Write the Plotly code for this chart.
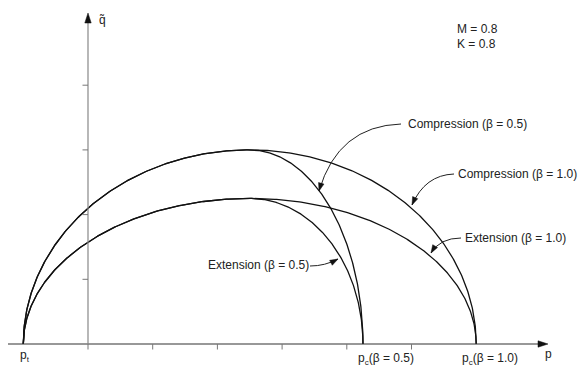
import numpy as np
import plotly.graph_objects as go

# ---- data ----
p_t = -1.0                     # tensile intercept
p_apex = 2.5                   # p at apex of surfaces
q_apex_compression = 3.0       # apex height, compression side
q_apex_extension = 2.25        # apex height, extension side
p_c_beta = {"0.5": 4.25, "1.0": 6.0}
x_ticks = [0, 1, 2, 3, 4, 5]
y_ticks = [1, 2, 3, 4]
M_value = 0.8
K_value = 0.8

S = 64.7  # px per unit
PAGE_OFF = 8  # default page margin
OX, OY = 88 - PAGE_OFF, 344 - PAGE_OFF
W, H = 587 - PAGE_OFF, 377 - PAGE_OFF


def px(X, Y):
    # screen pixel (as in reference) -> data coordinates
    X -= PAGE_OFF
    Y -= PAGE_OFF
    return (X - OX) / S, (OY - Y) / S


def surface(p_left, p_top, q_top, p_right, n=200):
    th = np.linspace(np.pi, np.pi / 2, n)
    pl = p_top + (p_top - p_left) * np.cos(th)
    ql = q_top * np.sin(th)
    th2 = np.linspace(np.pi / 2, 0, n)
    pr = p_top + (p_right - p_top) * np.cos(th2)
    qr = q_top * np.sin(th2)
    return np.concatenate([pl, pr]), np.concatenate([ql, qr])


fig = go.Figure()
for beta, pc in p_c_beta.items():
    for qa in (q_apex_compression, q_apex_extension):
        pp, qq = surface(p_t, p_apex, qa, pc)
        fig.add_trace(go.Scatter(x=pp, y=qq, mode="lines",
                                 line=dict(color="#111", width=1.3),
                                 hoverinfo="skip", showlegend=False))

shapes = []
annotations = []


def head(tx, ty, dx, dy, length_px, half_px, color="#111"):
    d = (dx ** 2 + dy ** 2) ** 0.5
    ux, uy = dx / d, dy / d
    L, Hh = length_px / S, half_px / S
    bx, by = tx - ux * L, ty - uy * L
    p1 = (bx - uy * Hh, by + ux * Hh)
    p2 = (bx + uy * Hh, by - ux * Hh)
    shapes.append(dict(type="path", xref="x", yref="y",
                       path=f"M {tx},{ty} L {p1[0]},{p1[1]} L {p2[0]},{p2[1]} Z",
                       fillcolor=color, line=dict(color=color, width=0.5)))


# axes lines
x0, _ = px(7, 0)
xt, _ = px(548, 0)
_, yt = px(0, 13)
shapes.append(dict(type="line", xref="x", yref="y", x0=x0, y0=0, x1=xt - 0.1, y1=0,
                   line=dict(color="#333", width=1.2)))
shapes.append(dict(type="line", xref="x", yref="y", x0=0, y0=0, x1=0, y1=yt - 0.1,
                   line=dict(color="#888", width=1.2)))
head(xt, 0, 1, 0, 10, 3.2)
head(0, yt, 0, 1, 10, 3.2)

# ticks
tl = 5.5 / S
for t in x_ticks:
    shapes.append(dict(type="line", xref="x", yref="y", x0=t, y0=0, x1=t, y1=-tl,
                       line=dict(color="#777", width=1)))
for t in y_ticks:
    shapes.append(dict(type="line", xref="x", yref="y", x0=-tl, y0=t, x1=0, y1=t,
                       line=dict(color="#777", width=1)))

font = dict(family="Liberation Sans, Arial, sans-serif", size=12, color="#222")


def label(X, Y, text, anchor="left", yanchor="middle"):
    x, y = px(X, Y)
    annotations.append(dict(x=x, y=y, xref="x", yref="y", text=text, showarrow=False,
                            xanchor=anchor, yanchor=yanchor, font=font))


SUB = "<span style='font-size:8px'>{}</span>"
label(97, 20, "q̃")
label(543, 354, "p")
label(455, 29, f"M = {M_value}")
label(455, 44, f"K = {K_value}")
label(18, 356, "p<sub>" + SUB.format("t") + "</sub>")
label(356, 359, "p<sub>" + SUB.format("c") + "</sub>(β = 0.5)")
label(460, 359, "p<sub>" + SUB.format("c") + "</sub>(β = 1.0)")

# callouts: (label pos, start, control, tip)
callouts = [
    ("Compression (β = 0.5)", (406, 124), (401, 124), (338, 126), (319, 191)),
    ("Compression (β = 1.0)", (456, 174), (454, 174), (425, 175), (412, 205)),
    ("Extension (β = 1.0)", (463, 238), (461, 238), (440, 238), (431, 253)),
    ("Extension (β = 0.5)", (206, 265), (310, 266), (325, 266), (338, 259)),
]
for text, lp, s, c, t in callouts:
    label(lp[0], lp[1], text)
    sx, sy = px(*s)
    cx, cy = px(*c)
    tx, ty = px(*t)
    shapes.append(dict(type="path", xref="x", yref="y",
                       path=f"M {sx},{sy} Q {cx},{cy} {tx},{ty}",
                       line=dict(color="#222", width=1)))
    head(tx, ty, tx - cx, ty - cy, 8, 2.8)

xr = [(0 - OX) / S, (W - OX) / S]
yr = [(OY - H) / S, OY / S]
fig.update_layout(
    width=W, height=H, margin=dict(l=0, r=0, t=0, b=0),
    paper_bgcolor="white", plot_bgcolor="white",
    xaxis=dict(range=xr, visible=False, fixedrange=True),
    yaxis=dict(range=yr, visible=False, fixedrange=True),
    shapes=shapes, annotations=annotations, showlegend=False,
)
fig.write_html("out.html")
